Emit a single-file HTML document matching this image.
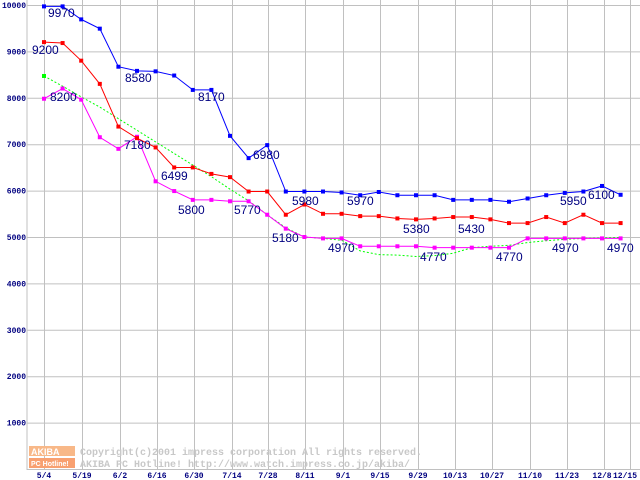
<!DOCTYPE html>
<html><head><meta charset="utf-8"><style>
html,body{margin:0;padding:0;background:#fff}
svg{display:block}
.lb{font-family:"Liberation Sans",sans-serif;font-size:12px;fill:#000080}
.yt{font-family:"Liberation Mono",monospace;font-size:8px;font-weight:bold;fill:#000080;text-anchor:end}
.xt{font-family:"Liberation Mono",monospace;font-size:8px;font-weight:bold;fill:#000080;text-anchor:middle}
.wm{font-family:"Liberation Mono",monospace;font-size:10px;fill:#c8c8c8;font-weight:bold}
</style></head><body>
<svg width="640" height="480" viewBox="0 0 640 480" xmlns="http://www.w3.org/2000/svg">
<g stroke="#c0c0c0" stroke-width="1" id="grid"></g>
<g id="ser"></g>
<g id="txt"></g>
<rect x="29" y="446" width="46" height="10" fill="#f8b888"/>
<rect x="29" y="458" width="46" height="10" fill="#f8a070"/>
<text x="31" y="455" font-family="Liberation Sans" font-size="9" font-weight="bold" fill="#fff">AKIBA</text>
<text x="31" y="466" font-family="Liberation Sans" font-size="7" font-weight="bold" fill="#fff">PC Hotline!</text>
<text class="wm" x="80" y="455">Copyright(c)2001 impress corporation All rights reserved.</text>
<text class="wm" x="80" y="467">AKIBA PC Hotline!  http://www.watch.impress.co.jp/akiba/</text>
<line x1="27" y1="0" x2="27" y2="470" stroke="#c0c0c0"/>
<line x1="27" y1="469.5" x2="640" y2="469.5" stroke="#c0c0c0"/>
</svg>
<script>
const NS="http://www.w3.org/2000/svg";
function el(p,t,a,tx){const e=document.createElementNS(NS,t);for(const k in a)e.setAttribute(k,a[k]);if(tx!==undefined)e.textContent=tx;document.getElementById(p).appendChild(e);return e;}
const Y=v=>469-v*0.0464;
for(let v=1000;v<=10000;v+=1000){el("grid","line",{x1:27,x2:640,y1:Y(v)+.5,y2:Y(v)+.5});el("txt","text",{class:"yt",x:26,y:Y(v)+3},String(v));}
const vx=[44,82,120,157,194,232,268,305,343,380,418,455,492,530,567,604,630];
const xl=["5/4","5/19","6/2","6/16","6/30","7/14","7/28","8/11","9/1","9/15","9/29","10/13","10/27","11/10","11/23","12/8","12/15"];
vx.forEach((x,i)=>{el("grid","line",{x1:x+.5,x2:x+.5,y1:0,y2:470});
 if(i==16)el("txt","text",{class:"xt",x:637,y:478,"text-anchor":"end",style:"text-anchor:end"},xl[i]);
 else el("txt","text",{class:"xt",x:i==15?x-2:x,y:478},xl[i]);});
const X=i=>44+i*18.6;
const blue=[9970,9970,9690,9490,8670,8580,8570,8480,8170,8170,7180,6700,6980,5980,5980,5980,5960,5900,5970,5900,5900,5900,5800,5800,5800,5760,5830,5900,5950,5980,6100,5910];
const red=[9200,9180,8800,8300,7380,7130,6930,6499,6499,6360,6290,5980,5980,5480,5700,5500,5500,5450,5450,5400,5380,5400,5430,5430,5380,5300,5300,5430,5300,5480,5300,5300];
const mag=[7980,8200,7960,7150,6900,7160,6200,5990,5800,5800,5770,5770,5480,5180,5000,4970,4970,4800,4800,4800,4800,4770,4770,4770,4770,4770,4970,4970,4970,4970,4970,4970];
const grn=[8470,8250,8020,7800,7550,7300,7050,6800,6550,6300,6030,5780,5480,5200,5000,4970,4930,4700,4620,4610,4580,4600,4650,4770,4800,4820,4880,4920,4950,4970,4980,4990];
function ser(d,c,dash,mk){el("ser","polyline",{points:d.map((v,i)=>X(i)+","+Y(v)).join(" "),fill:"none",stroke:c,"stroke-width":1,"stroke-dasharray":dash||""});
 if(mk)d.forEach((v,i)=>el("ser","rect",{x:X(i)-2,y:Y(v)-2,width:4,height:4,fill:c}));}
ser(grn,"#00ff00","2,2",false);el("ser","rect",{x:42,y:Y(8470)-2,width:4,height:4,fill:"#00ff00"});
ser(mag,"#ff00ff","",true);ser(red,"#ff0000","",true);ser(blue,"#0000ff","",true);
[["9970",48,17],["9200",32,54],["8200",50,101],["8580",125,82],["8170",198,101],["7180",124,149],["6499",161,180],["6980",253,159],["5800",178,214],["5770",234,214],["5180",272,242],["5980",292,205],["4970",328,252],["5970",347,205],["5380",403,233],["4770",420,261],["5430",458,233],["4770",496,261],["5950",560,205],["4970",552,252],["6100",588,199],["4970",607,252]].forEach(a=>el("txt","text",{class:"lb",x:a[1],y:a[2]},a[0]));
</script>
</body></html>
